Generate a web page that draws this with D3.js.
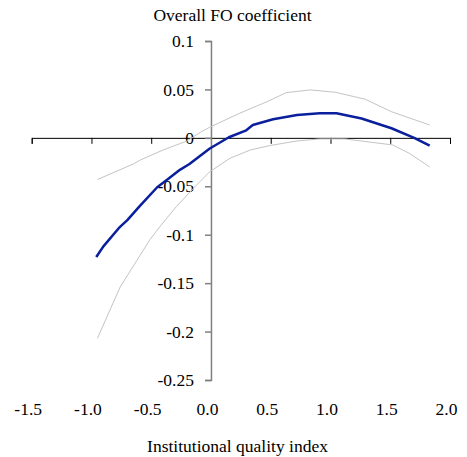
<!DOCTYPE html>
<html>
<head>
<meta charset="utf-8">
<script src="https://cdn.jsdelivr.net/npm/d3@7"></script>
<style>
  body { margin: 0; background: #fff; }
  text { font-family: "Liberation Serif", "Times New Roman", serif; font-size: 17.5px; fill: #000; }
</style>
</head>
<body>
<svg id="chart" width="467" height="457"></svg>
<script>
// x ticks / y ticks
var x_ticks = [-1.5, -1.0, -0.5, 0.0, 0.5, 1.0, 1.5, 2.0];
var y_ticks = [0.1, 0.05, 0, -0.05, -0.1, -0.15, -0.2, -0.25];

// estimated coefficient
var fo_x = [-0.96, -0.90, -0.77, -0.70, -0.60, -0.45, -0.37, -0.26, -0.18, -0.01, 0.15, 0.29, 0.35, 0.52, 0.72, 0.91, 1.05, 1.26, 1.51, 1.70, 1.83];
var fo_y = [-0.123, -0.112, -0.093, -0.085, -0.071, -0.051, -0.0435, -0.033, -0.027, -0.011, 0.0006, 0.0074, 0.0133, 0.0192, 0.0236, 0.0254, 0.0254, 0.020, 0.0099, 0.0, -0.008];

// upper confidence band
var up_x = [-0.95, -0.65, -0.59, -0.40, -0.20, -0.08, -0.01, 0.24, 0.47, 0.63, 0.83, 1.04, 1.29, 1.51, 1.83];
var up_y = [-0.043, -0.027, -0.0228, -0.0125, -0.0032, 0.0064, 0.011, 0.0254, 0.0374, 0.0467, 0.0495, 0.0471, 0.0399, 0.027, 0.0133];

// lower confidence band
var lo_x = [-0.95, -0.76, -0.51, -0.43, -0.29, -0.12, -0.01, 0.16, 0.33, 0.49, 0.72, 0.91, 1.12, 1.52, 1.66, 1.83];
var lo_y = [-0.207, -0.154, -0.105, -0.092, -0.071, -0.0486, -0.035, -0.021, -0.0125, -0.008, -0.0032, -0.0011, -0.0011, -0.0073, -0.016, -0.030];

var svg = d3.select("#chart");

var x = d3.scaleLinear().domain([-1.5, 2.0]).range([31.7, 450]);
var y = d3.scaleLinear().domain([-0.25, 0.1]).range([380, 41]);

// x axis at y = 0
var x_axis = d3.axisBottom(x).tickValues(x_ticks).tickSize(6).tickFormat("");
var gx = svg.append("g")
    .attr("transform", "translate(0," + y(0) + ")")
    .call(x_axis);
gx.select(".domain").attr("stroke", "#000");
gx.selectAll(".tick line").attr("stroke", "#000");

// y axis at x = 0
var y_axis = d3.axisLeft(y).tickValues(y_ticks).tickSize(6).tickFormat("");
var gy = svg.append("g")
    .attr("transform", "translate(" + x(0) + ",0)")
    .call(y_axis);
gy.select(".domain").attr("stroke", "#808080").attr("stroke-width", 1.5);
gy.selectAll(".tick line").attr("stroke", "#808080").attr("stroke-width", 1.5);

// y tick labels
svg.append("g").selectAll("text")
    .data(y_ticks)
    .enter().append("text")
    .attr("x", x(0) - 17)
    .attr("y", d => y(d))
    .attr("dy", "0.35em")
    .attr("text-anchor", "end")
    .text(d => d === 0 ? "0" : d3.format("")(d).replace("−", "-"));

// x tick labels along the bottom
svg.append("g").selectAll("text")
    .data(x_ticks)
    .enter().append("text")
    .attr("x", d => x(d) - 3.5)
    .attr("y", 415)
    .attr("text-anchor", "middle")
    .text(d => d3.format(".1f")(d).replace("−", "-"));

// titles
svg.append("text")
    .attr("x", 232.5)
    .attr("y", 21)
    .attr("text-anchor", "middle")
    .text("Overall FO coefficient");
svg.append("text")
    .attr("x", 237.5)
    .attr("y", 452)
    .attr("text-anchor", "middle")
    .text("Institutional quality index");

var line = d3.line()
    .x(d => x(d[0]))
    .y(d => y(d[1]));

svg.append("path")
    .datum(d3.zip(up_x, up_y))
    .attr("d", line)
    .attr("fill", "none")
    .attr("stroke", "#c4c4c4")
    .attr("stroke-width", 1);
svg.append("path")
    .datum(d3.zip(lo_x, lo_y))
    .attr("d", line)
    .attr("fill", "none")
    .attr("stroke", "#c4c4c4")
    .attr("stroke-width", 1);
svg.append("path")
    .datum(d3.zip(fo_x, fo_y))
    .attr("d", line)
    .attr("fill", "none")
    .attr("stroke", "#0a1f9c")
    .attr("stroke-width", 2.5)
    .attr("stroke-linejoin", "round");
</script>
</body>
</html>
